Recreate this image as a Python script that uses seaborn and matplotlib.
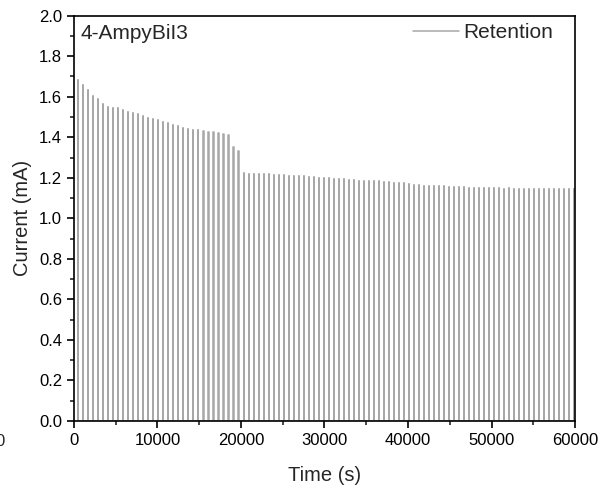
import numpy as np
import pandas as pd
import seaborn as sns
import matplotlib.pyplot as plt
from matplotlib.ticker import MultipleLocator

# peak current of each read pulse (mA), one pulse every 600 s
peaks = [1.682, 1.658, 1.631, 1.605, 1.590, 1.562, 1.549, 1.546, 1.546, 1.534,
         1.524, 1.519, 1.513, 1.506, 1.496, 1.491, 1.485, 1.477, 1.472, 1.462,
         1.454, 1.446, 1.441, 1.438, 1.436, 1.431, 1.427, 1.424, 1.419, 1.416,
         1.409, 1.353, 1.332,
         1.222, 1.221, 1.219, 1.218, 1.219, 1.217, 1.214, 1.213, 1.212, 1.211,
         1.211, 1.209, 1.208, 1.205, 1.204, 1.201, 1.199, 1.199, 1.196, 1.195,
         1.193, 1.190,
         1.187, 1.184, 1.184, 1.185, 1.184, 1.182, 1.180, 1.179, 1.176, 1.173,
         1.175, 1.171, 1.166, 1.163, 1.160, 1.160, 1.159, 1.159, 1.158, 1.157,
         1.157, 1.156, 1.155,
         1.152, 1.150, 1.150, 1.149, 1.149, 1.148, 1.148, 1.147, 1.148, 1.147,
         1.146, 1.146, 1.146, 1.145, 1.145, 1.146, 1.145, 1.144, 1.144, 1.145,
         1.144, 1.143]
first_pulse = 500      # s
period = 600           # s
pulse_width = 10       # s

# build the square pulse trace
t, i = [], []
for k, p in enumerate(peaks):
    t0 = first_pulse + k * period
    t += [t0, t0, t0 + pulse_width, t0 + pulse_width]
    i += [0.0, p, p, 0.0]
df = pd.DataFrame({'Time': t, 'Current': i})

sns.set_style('ticks')
plt.rcParams['font.family'] = ['Liberation Sans', 'DejaVu Sans']

fig = plt.figure(figsize=(6.04, 4.95), dpi=100)
ax = fig.add_axes([0.1225, 0.1495, 0.8295, 0.8188])

sns.lineplot(data=df, x='Time', y='Current', sort=False, estimator=None,
             color='#a8a8a8', linewidth=1.1, label='Retention', ax=ax)

ax.set_xlim(0, 60000)
ax.set_ylim(0, 2.0)
ax.xaxis.set_major_locator(MultipleLocator(10000))
ax.xaxis.set_minor_locator(MultipleLocator(5000))
ax.yaxis.set_major_locator(MultipleLocator(0.2))
ax.yaxis.set_minor_locator(MultipleLocator(0.1))
ax.yaxis.set_major_formatter(plt.FormatStrFormatter('%.1f'))
ax.tick_params(which='major', direction='out', length=5, width=1.2, labelsize=12, colors='black')
ax.tick_params(which='minor', direction='out', length=3, width=1.2)
for s in ax.spines.values():
    s.set_linewidth(1.2)
    s.set_color('black')
    s.set_visible(True)

ax.set_xlabel('Time (s)', fontsize=14.5, labelpad=13)
ax.set_ylabel('Current (mA)', fontsize=14.5, labelpad=5)
ax.text(0.012, 0.955, '4-AmpyBiI3', transform=ax.transAxes, fontsize=15,
        ha='left', va='center')
ax.legend(loc='upper right', bbox_to_anchor=(0.973, 1.003), frameon=False,
          fontsize=15, handlelength=2.2, borderaxespad=0, handletextpad=0.2)

# clipped stray tick label at the left edge (as in the reference)
fig.text(0.0, 1 - 442 / 495, '0', fontsize=12, ha='center', va='center')

fig.savefig('out.png', dpi=100)
